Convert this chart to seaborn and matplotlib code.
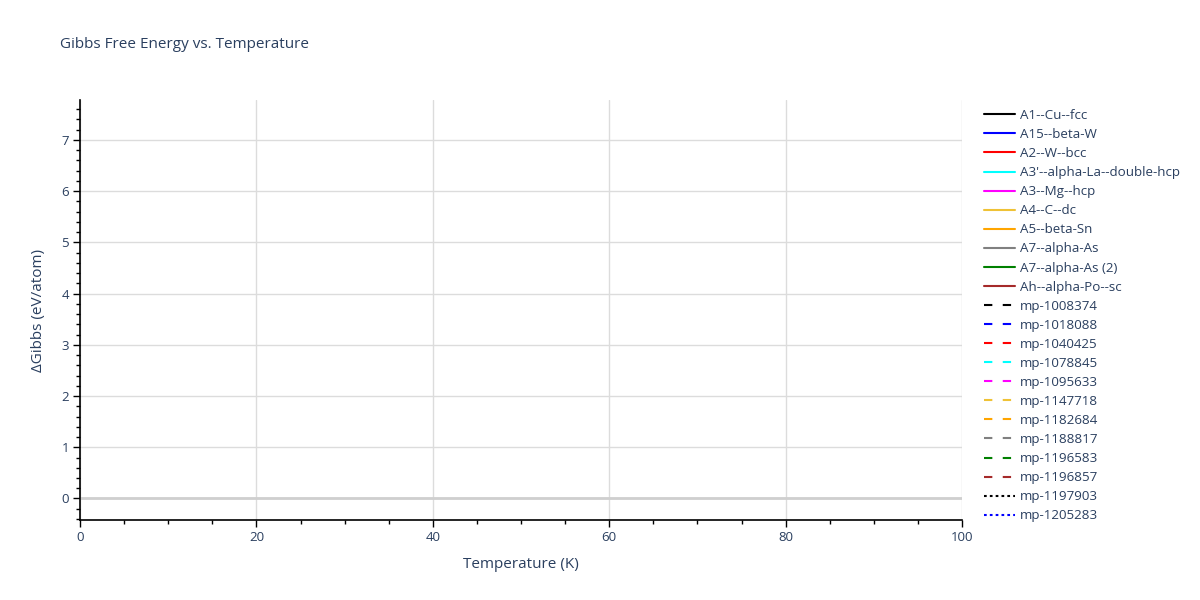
import matplotlib
matplotlib.use("Agg")
import matplotlib.pyplot as plt
import seaborn as sns
import pandas as pd
from matplotlib.ticker import MultipleLocator

# ---- data (no points fall inside the shown window) ----
series_names = [
    "A1--Cu--fcc", "A15--beta-W", "A2--W--bcc", "A3'--alpha-La--double-hcp",
    "A3--Mg--hcp", "A4--C--dc", "A5--beta-Sn", "A7--alpha-As", "A7--alpha-As (2)",
    "Ah--alpha-Po--sc", "mp-1008374", "mp-1018088", "mp-1040425", "mp-1078845",
    "mp-1095633", "mp-1147718", "mp-1182684", "mp-1188817", "mp-1196583",
    "mp-1196857", "mp-1197903", "mp-1205283",
]
series_colors = [
    "black", "blue", "red", "cyan", "magenta", "#EFC236", "orange", "gray", "green",
    "brown", "black", "blue", "red", "cyan", "magenta", "#EFC236", "orange", "gray",
    "green", "brown", "black", "blue",
]
series_styles = ["solid"] * 10 + ["dash"] * 10 + ["dot"] * 2
temperature = []   # K
gibbs = []         # eV/atom

x_ticks = [0, 20, 40, 60, 80, 100]
y_ticks = [0, 1, 2, 3, 4, 5, 6, 7]

sns.set_style("white")
plt.rcParams["font.family"] = ["Open Sans", "DejaVu Sans"]
text_color = "#2a3f5f"

fig = plt.figure(figsize=(12, 6), dpi=100)
ax = fig.add_axes([80 / 1200, 80 / 600, 882 / 1200, 420 / 600])

dash_map = {"solid": "-", "dash": (0, (4, 5)), "dot": (0, (1.3, 1.5))}
handles = []
for name, col, sty in zip(series_names, series_colors, series_styles):
    df = pd.DataFrame({"T": pd.Series(temperature, dtype=float),
                       "G": pd.Series(gibbs, dtype=float)})
    (h,) = ax.plot(df["T"], df["G"], color=col, linestyle=dash_map[sty],
                   linewidth=1.5, label=name)
    handles.append(h)

ax.set_xlim(0, 100)
ax.set_ylim(-0.42, 7.78)
ax.set_xticks(x_ticks)
ax.set_yticks(y_ticks)
ax.xaxis.set_minor_locator(MultipleLocator(5))
ax.yaxis.set_minor_locator(MultipleLocator(0.2))
ax.grid(True, which="major", color="#dcdcdc", linewidth=1)
ax.axhline(0, color="#cfcfcf", linewidth=2, zorder=1)
for s in ["top", "right"]:
    ax.spines[s].set_visible(False)
for s in ["left", "bottom"]:
    ax.spines[s].set_color("black")
    ax.spines[s].set_linewidth(1.2)
ax.tick_params(axis="both", which="major", direction="out", length=5, width=1,
               color="black", labelsize=9.5, labelcolor=text_color, pad=3,
               left=True, bottom=True)
ax.tick_params(axis="both", which="minor", direction="out", length=3, width=1,
               color="black", left=True, bottom=True)
ax.set_xlabel("Temperature (K)", fontsize=11, color=text_color, labelpad=9)
ax.set_ylabel("ΔGibbs (eV/atom)", fontsize=11, color=text_color, labelpad=11)
fig.text(60 / 1200, 1 - 45 / 600, "Gibbs Free Energy vs. Temperature",
         fontsize=11, color=text_color, va="center", ha="left")

leg = fig.legend(handles=handles, loc="upper left",
                 bbox_to_anchor=(984 / 1200, 1 - 109 / 600), frameon=False,
                 fontsize=9.6, labelspacing=0.455, handlelength=2.3,
                 handletextpad=0.4, borderaxespad=0, borderpad=0)
for t in leg.get_texts():
    t.set_color(text_color)

fig.savefig("out.png", dpi=100)
